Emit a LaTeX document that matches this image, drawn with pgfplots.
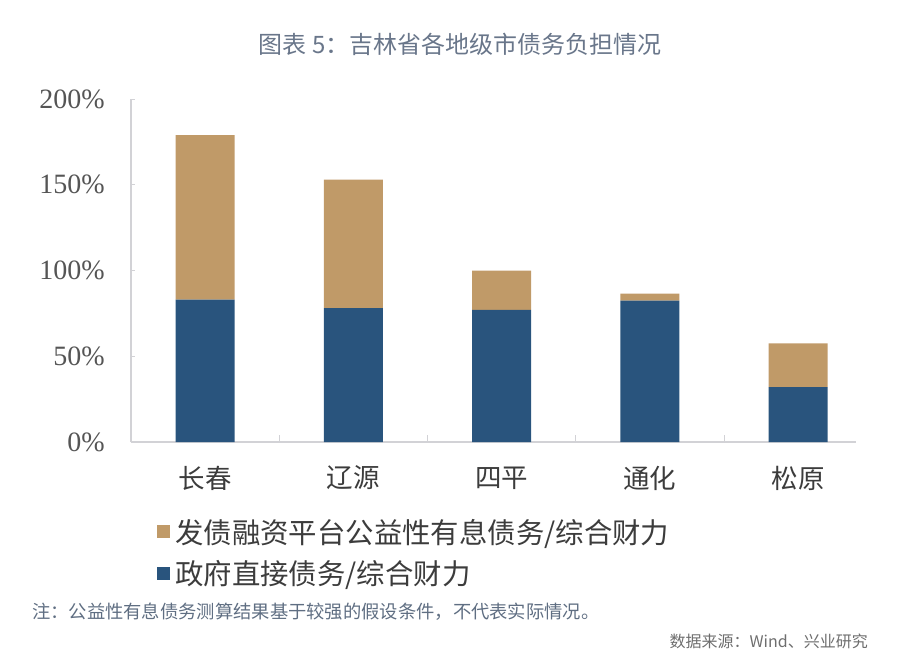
\documentclass[border=0pt]{standalone}
\usepackage{fontspec}
\setmainfont{Liberation Serif}
\newfontfamily\cjk{Noto Sans CJK SC}
\usepackage{pgfplots}
\pgfplotsset{compat=1.18}
\definecolor{tanc}{RGB}{192,154,104}
\definecolor{navy}{RGB}{41,84,125}
\definecolor{axisgray}{RGB}{210,210,214}
\definecolor{titlec}{RGB}{105,118,138}
\definecolor{notec}{RGB}{95,110,130}
\definecolor{srcc}{RGB}{110,110,110}
\definecolor{tickc}{RGB}{85,85,85}
\definecolor{catc}{RGB}{60,60,60}
\begin{document}
\begin{tikzpicture}
\begin{axis}[
  at={(0pt,0pt)}, anchor=south west,
  scale only axis, width=725pt, height=343pt,
  ybar stacked, bar width=59pt,
  xmin=-0.5, xmax=4.39, ymin=0, ymax=200,
  axis x line*=bottom, axis y line*=left,
  axis line style={-, draw=axisgray, line width=1.3pt},
  xtick={0,1,2,3,4},
  xticklabels={长春,辽源,四平,通化,松原},
  minor xtick={0.5,1.5,2.5,3.5},
  ytick={0,50,100,150,200},
  yticklabels={0\%,50\%,100\%,150\%,200\%},
  tick align=inside,
  major tick length=4pt, minor tick length=7pt,
  major x tick style={draw=none},
  minor x tick style={draw=axisgray, line width=1pt},
  major y tick style={draw=axisgray, line width=1pt},
  xticklabel style={font=\cjk\fontsize{26.5}{26.5}\selectfont, text=catc, inner sep=0pt, anchor=center, yshift=-36pt},
  yticklabel style={font=\fontsize{28}{28}\selectfont, text=tickc, inner sep=0pt, anchor=east, xshift=-26pt},
  reverse legend,
  legend cell align=left,
  legend style={at={(0.036,-0.224)}, anchor=north west, draw=none, fill=none,
    inner sep=0pt, row sep=16pt,
    font=\cjk\fontsize{28.4}{28.4}\selectfont, text=catc,
    nodes={inner sep=0pt},
    /tikz/every odd column/.append style={column sep=5pt}},
  legend image code/.code={\fill[#1] (0pt,-6.5pt) rectangle (13pt,6.5pt);},
]
\addplot[fill=navy, draw=none] coordinates {(0,83) (1,78) (2,77) (3,82.5) (4,32)};
\addplot[fill=tanc, draw=none] coordinates {(0,96) (1,75) (2,23) (3,4) (4,25.5)};
\legend{政府直接债务/综合财力, 发债融资平台公益性有息债务/综合财力}
\end{axis}
\node[font=\cjk\fontsize{24}{24}\selectfont, text=titlec, inner sep=0pt] at (329pt,398pt) {图表 5：吉林省各地级市债务负担情况};
\node[font=\cjk\fontsize{18.3}{18.3}\selectfont, text=notec, inner sep=0pt, anchor=west] at (-99pt,-170pt) {注：公益性有息债务测算结果基于较强的假设条件，不代表实际情况。};
\node[font=\cjk\fontsize{16}{16}\selectfont, text=srcc, inner sep=0pt, anchor=east] at (737pt,-199pt) {数据来源：Wind、兴业研究};
\pgfresetboundingbox
\path (-131pt,-223pt) rectangle (769pt,442pt);
\end{tikzpicture}
\end{document}
